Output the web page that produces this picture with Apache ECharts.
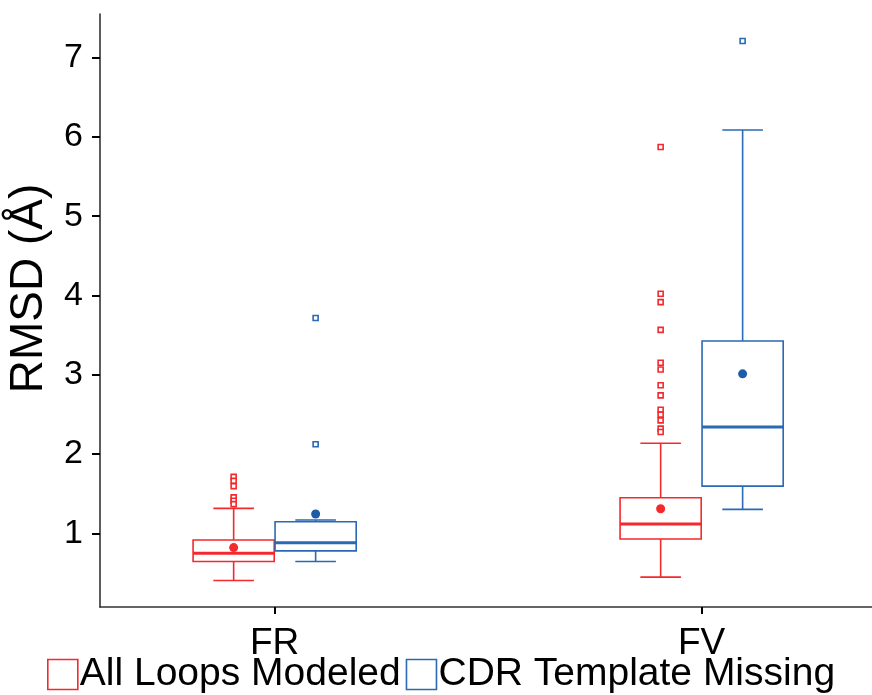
<!DOCTYPE html>
<html>
<head>
<meta charset="utf-8">
<title>RMSD by region</title>
<script src="https://cdn.jsdelivr.net/npm/echarts@6/dist/echarts.min.js"></script>
<style>
  html, body { margin: 0; padding: 0; background: #fff; }
  #chart { width: 872px; height: 695px; }
</style>
</head>
<body>
<div id="chart"></div>
<script>
// Groups along the x axis and the y tick values
const groups = ['FR', 'FV'];
const yTicks = [1, 2, 3, 4, 5, 6, 7];
const seriesNames = ['All Loops Modeled', 'CDR Template Missing'];

// Box statistics per group: [lower whisker, Q1, median, Q3, upper whisker]
const allLoopsBox = [
  [0.404, 0.643, 0.749, 0.916, 1.314],
  [0.447, 0.928, 1.117, 1.448, 2.135]
];
const allLoopsMean = [0.819, 1.309];
const allLoopsOutliers = [
  [1.711, 1.661, 1.595, 1.453, 1.410, 1.368],
  [5.872, 4.021, 3.916, 3.565, 3.150, 3.065, 2.868, 2.739, 2.559, 2.496, 2.424, 2.320, 2.277]
];

const cdrMissingBox = [
  [0.643, 0.778, 0.882, 1.146, 1.167],
  [1.302, 1.595, 2.340, 3.426, 6.086]
];
const cdrMissingMean = [1.243, 3.011];
const cdrMissingOutliers = [
  [3.715, 2.123],
  [7.21]
];

const RED = '#F5282C';
const BLUE = '#2A69B4';
const BLUE_DOT = '#1E5CA8';
const BOX_W = 0.19;      // box width in x-axis units
const DODGE = 0.096;     // half the distance between paired boxes
const FONT = 'Liberation Sans, Arial, sans-serif';

function boxSeries(name, stats, color, offset) {
  return {
    name: name,
    type: 'custom',
    z: 2,
    encode: { x: 0, y: [1, 2, 3, 4, 5] },
    data: stats.map((s, i) => [i + 1].concat(s)),
    renderItem: function (params, api) {
      const cx = api.value(0) + offset;
      const half = api.size([BOX_W, 0])[0] / 2;
      const low = api.coord([cx, api.value(1)]);
      const q1 = api.coord([cx, api.value(2)]);
      const med = api.coord([cx, api.value(3)]);
      const q3 = api.coord([cx, api.value(4)]);
      const high = api.coord([cx, api.value(5)]);
      const x = low[0];
      const capHalf = half / 2;
      const thin = { stroke: color, lineWidth: 1.6, fill: null };
      return {
        type: 'group',
        children: [
          { type: 'line', shape: { x1: x, y1: q3[1], x2: x, y2: high[1] }, style: thin },
          { type: 'line', shape: { x1: x, y1: q1[1], x2: x, y2: low[1] }, style: thin },
          { type: 'line', shape: { x1: x - capHalf, y1: high[1], x2: x + capHalf, y2: high[1] }, style: thin },
          { type: 'line', shape: { x1: x - capHalf, y1: low[1], x2: x + capHalf, y2: low[1] }, style: thin },
          { type: 'rect', shape: { x: x - half, y: q3[1], width: half * 2, height: q1[1] - q3[1] },
            style: { stroke: color, lineWidth: 1.6, fill: '#fff' } },
          { type: 'line', shape: { x1: x - half, y1: med[1], x2: x + half, y2: med[1] },
            style: { stroke: color, lineWidth: 3 } }
        ]
      };
    }
  };
}

function outlierSeries(name, outliers, color, offset) {
  const pts = [];
  outliers.forEach((list, i) => list.forEach(v => pts.push([i + 1 + offset, v])));
  return {
    name: name,
    type: 'scatter',
    z: 3,
    symbol: 'rect',
    symbolSize: 5,
    itemStyle: { color: '#fff', borderColor: color, borderWidth: 1.6, opacity: 1 },
    data: pts
  };
}

function meanSeries(name, means, color, offset) {
  return {
    name: name,
    type: 'scatter',
    z: 4,
    symbol: 'circle',
    symbolSize: 9,
    itemStyle: { color: color, opacity: 1 },
    data: means.map((v, i) => [i + 1 + offset, v])
  };
}

const chart = echarts.init(document.getElementById('chart'), null, { renderer: 'canvas' });

chart.setOption({
  backgroundColor: '#fff',
  animation: false,
  grid: { left: 100, right: 0, top: 14, bottom: 88, containLabel: false, outerBoundsMode: 'none' },
  legend: {
    left: 47,
    top: 655,
    itemWidth: 30,
    itemHeight: 30,
    itemGap: 5,
    padding: 0,
    textStyle: { fontFamily: FONT, fontSize: 39, color: '#000', padding: [0, 0, 0, -3] },
    data: [
      { name: seriesNames[0], icon: 'rect', itemStyle: { color: '#fff', borderColor: RED, borderWidth: 1.6 } },
      { name: seriesNames[1], icon: 'rect', itemStyle: { color: '#fff', borderColor: BLUE, borderWidth: 1.6 } }
    ]
  },
  xAxis: {
    type: 'value',
    min: 0.591,
    max: 2.399,
    splitLine: { show: false },
    axisLine: { show: true, lineStyle: { color: '#333', width: 1.6 } },
    axisTick: {
      show: true, length: 7, lineStyle: { color: '#000', width: 2 },
      customValues: groups.map((g, i) => i + 1)
    },
    axisLabel: {
      fontFamily: FONT, fontSize: 37, color: '#000', margin: 18,
      customValues: groups.map((g, i) => i + 1),
      formatter: v => groups[Math.round(v) - 1] || ''
    }
  },
  yAxis: {
    type: 'value',
    min: 0.07,
    max: 7.55,
    name: 'RMSD (Å)',
    nameLocation: 'middle',
    nameRotate: 90,
    nameGap: 48,
    nameTextStyle: { fontFamily: FONT, fontSize: 46, color: '#000', padding: [0, 0, 0, 44] },
    splitLine: { show: false },
    axisLine: { show: true, lineStyle: { color: '#333', width: 1.6 } },
    axisTick: {
      show: true, length: 8, lineStyle: { color: '#000', width: 2 },
      customValues: yTicks
    },
    axisLabel: {
      fontFamily: FONT, fontSize: 34, color: '#000', margin: 17,
      customValues: yTicks,
      formatter: v => String(v)
    }
  },
  series: [
    boxSeries(seriesNames[0], allLoopsBox, RED, -DODGE),
    boxSeries(seriesNames[1], cdrMissingBox, BLUE, DODGE),
    outlierSeries(seriesNames[0], allLoopsOutliers, RED, -DODGE),
    outlierSeries(seriesNames[1], cdrMissingOutliers, BLUE, DODGE),
    meanSeries(seriesNames[0], allLoopsMean, RED, -DODGE),
    meanSeries(seriesNames[1], cdrMissingMean, BLUE_DOT, DODGE)
  ]
});
</script>
</body>
</html>
